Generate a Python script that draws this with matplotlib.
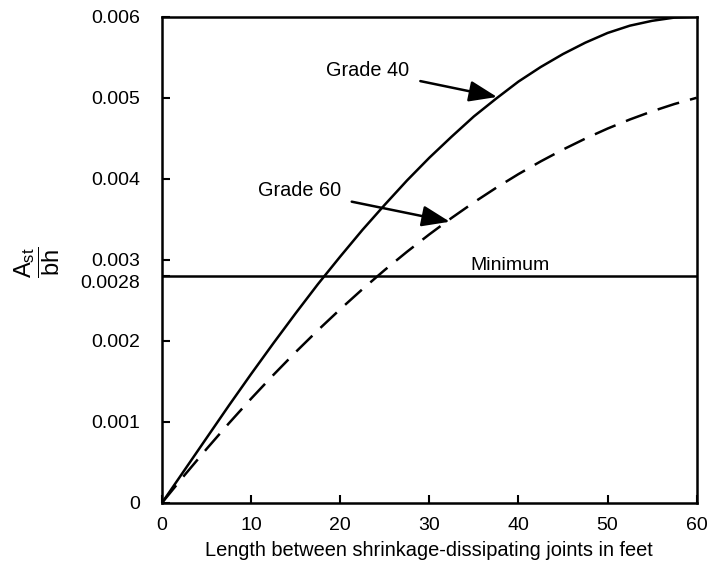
import matplotlib
matplotlib.use("Agg")
import matplotlib.pyplot as plt
import matplotlib.transforms as mtransforms

plt.rcParams['font.family'] = ['Liberation Sans', 'DejaVu Sans']
plt.rcParams['mathtext.fontset'] = 'custom'
plt.rcParams['mathtext.rm'] = 'Liberation Sans'
plt.rcParams['mathtext.it'] = 'Liberation Sans'

# values
length_ft = [0, 2.5, 5, 7.5, 10, 12.5, 15, 17.5, 20, 22.5, 25, 27.5, 30,
             32.5, 35, 37.5, 40, 42.5, 45, 47.5, 50, 52.5, 55, 57.5, 60]
grade40 = [0, 0.000400, 0.000800, 0.00120, 0.00159, 0.00197, 0.00234,
           0.00270, 0.00304, 0.00337, 0.00368, 0.00398, 0.00426,
           0.00452, 0.00477, 0.00499, 0.00520, 0.00538, 0.00554,
           0.00568, 0.00580, 0.00589, 0.00595, 0.00599, 0.00600]
grade60 = [0, 0.000338, 0.000665, 0.000981, 0.001286, 0.001579, 0.001861,
           0.002131, 0.002390, 0.002638, 0.002875, 0.003100, 0.003314,
           0.003517, 0.003709, 0.003889, 0.004058, 0.004215, 0.004361,
           0.004496, 0.004620, 0.004732, 0.004833, 0.004923, 0.005000]
minimum = 0.0028

x_ticks = [0, 10, 20, 30, 40, 50, 60]
y_ticks = [0, 0.001, 0.002, 0.0028, 0.003, 0.004, 0.005, 0.006]
y_labels = ['0', '0.001', '0.002', '0.0028', '0.003', '0.004', '0.005', '0.006']

fig = plt.figure(figsize=(7.12, 5.78), dpi=100)
ax = fig.add_axes([0.2275, 0.13, 0.751, 0.841])

ax.plot(length_ft, grade40, color='black', lw=1.8)
ax.plot(length_ft, grade60, color='black', lw=1.8, dashes=(9, 4.5))
ax.axhline(minimum, color='black', lw=1.8)

ax.set_xlim(0, 60)
ax.set_ylim(0, 0.006)
ax.set_xticks(x_ticks)
ax.set_yticks(y_ticks)
ax.set_yticklabels(y_labels)
ax.tick_params(direction='in', length=6, width=1.5, labelsize=14)
ax.tick_params(axis='x', pad=10)
ax.tick_params(axis='y', pad=16)
for s in ax.spines.values():
    s.set_linewidth(1.8)

# the 0.0028 label sits a little below its tick in the original
lbl = ax.get_yticklabels()[3]
lbl.set_transform(lbl.get_transform() +
                  mtransforms.ScaledTranslation(0, -4 / 72, fig.dpi_scale_trans))

ax.set_xlabel('Length between shrinkage-dissipating joints in feet', fontsize=14.4, labelpad=5)
fig.text(0.052, 0.547, r'$\dfrac{\mathrm{A}_{\mathrm{st}}}{\mathrm{bh}}$', rotation=90,
         fontsize=17, ha='center', va='center')

arrow = dict(arrowstyle='-|>,head_length=1.2,head_width=0.45', color='black', lw=1.8,
             shrinkA=6, shrinkB=0)
ax.annotate('Grade 40', xy=(37.6, 0.00501), xytext=(23.1, 0.00534),
            fontsize=14.3, ha='center', va='center', arrowprops=arrow)
ax.annotate('Grade 60', xy=(32.3, 0.00347), xytext=(15.4, 0.00385),
            fontsize=14.3, ha='center', va='center', arrowprops=arrow)
ax.text(39, 0.00283, 'Minimum', fontsize=14, ha='center', va='bottom')

fig.savefig('out.png', dpi=100)
